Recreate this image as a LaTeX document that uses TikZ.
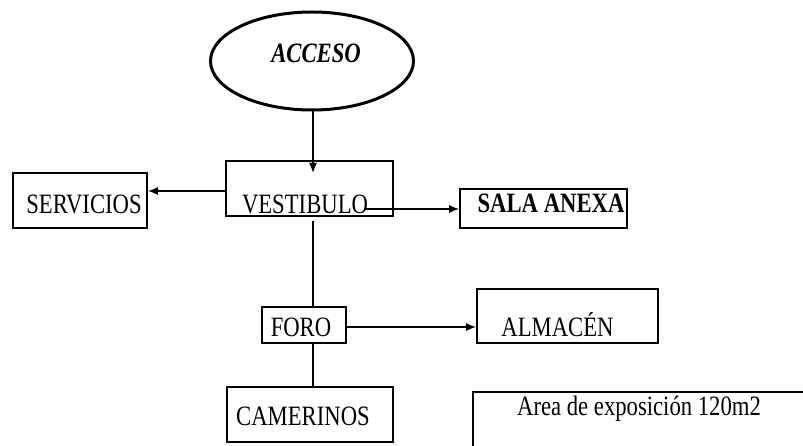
\documentclass[tikz,border=0pt]{standalone}
\usepackage{fontspec}
\setmainfont{Liberation Serif}[FakeStretch=0.81]
\usetikzlibrary{arrows.meta,shapes.geometric,calc}
\tikzset{
    block/.style = {draw, rectangle, line width=1.6pt, inner sep=0pt},
    terminal/.style = {draw, ellipse, line width=3pt, inner sep=0pt,
        minimum width=203pt, minimum height=98pt},
    boxtext/.style = {anchor=base, inner sep=0pt, font=\fontsize{28}{30}\selectfont},
    arrow/.style = {draw, line width=1.6pt, -{Latex[length=10pt,width=8pt]}},
    link/.style = {draw, line width=1.6pt}
}
\begin{document}
\begin{tikzpicture}[x=1pt,y=-1pt]
    \useasboundingbox (0,0) rectangle (803,446);
    \clip (0,0) rectangle (803,446);
    % nodos
    \node[terminal] (acceso) at (312,61) {};
    \node[boxtext] at (316,63) {\bfseries\itshape ACCESO};
    \node[block, minimum width=134pt, minimum height=55pt] (serv) at (80,200.5) {};
    \node[boxtext] at (84,214) {SERVICIOS};
    \node[block, minimum width=167pt, minimum height=55pt] (vest) at (309.5,188.5) {};
    \node[boxtext] at (305,214) {VESTIBULO};
    \node[block, minimum width=167pt, minimum height=39pt] (sala) at (543.5,208.5) {};
    \node[boxtext] at (551,213) {\bfseries SALA ANEXA};
    \node[block, minimum width=84pt, minimum height=36pt] (foro) at (304,325) {};
    \node[boxtext] at (301,336) {FORO};
    \node[block, minimum width=181pt, minimum height=54pt] (alm) at (567.5,316) {};
    \node[boxtext] at (557.5,336) {ALMACÉN};
    \node[block, minimum width=166pt, minimum height=55pt] (cam) at (310,414.5) {};
    \node[boxtext] at (303,425) {CAMERINOS};
    \node[block, minimum width=360pt, minimum height=70pt] (area) at (653,427) {};
    \node[boxtext] at (639,415) {Area de exposición 120m2};
    % conexiones
    \coordinate (eje) at (313,0);
    \coordinate (entrada) at (313,173);
    \draw[arrow] (acceso.south -| eje) -- (entrada);
    \draw[arrow] ([yshift=-2.5pt]vest.west) -- ([yshift=-2.5pt]vest.west -| serv.east);
    \draw[arrow] ([xshift=-30pt,yshift=-0.5pt]vest.east |- sala.west) -- ([yshift=-0.5pt]sala.west);
    \draw[link] ([yshift=-4pt]vest.south -| eje) -- (foro.north -| eje);
    \draw[arrow] ([yshift=-2pt]foro.east) -- ([yshift=-2pt]foro.east -| alm.west);
    \draw[link] (foro.south -| eje) -- (cam.north -| eje);
\end{tikzpicture}
\end{document}
